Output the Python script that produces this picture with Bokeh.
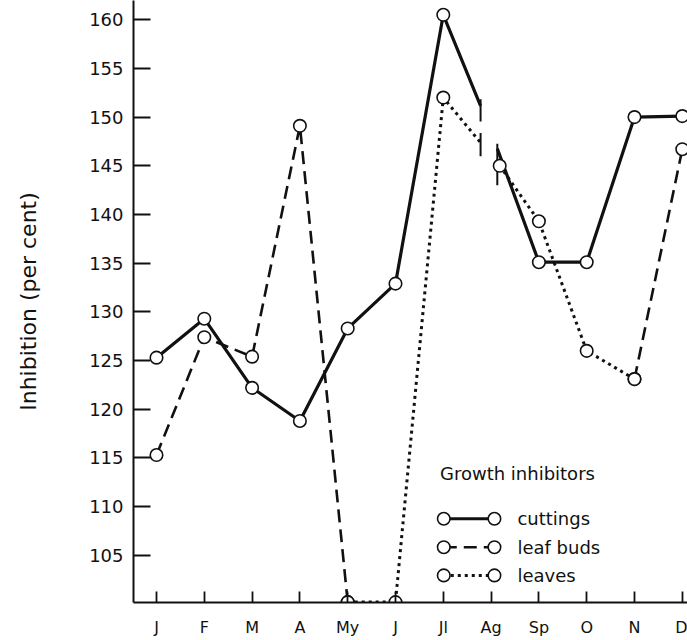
import math
from bokeh.plotting import figure
from bokeh.models import Range1d, FixedTicker, Label
from bokeh.embed import file_html
from bokeh.resources import INLINE

# ---------------- data ----------------
months = ["J", "F", "M", "A", "My", "J", "Jl", "Ag", "Sp", "O", "N", "D"]
nan = float("nan")
cuttings = [125.3, 129.3, 122.2, 118.8, 128.3, 132.9, 160.5, 148.5, 135.1, 135.1, 150.0, 150.1]
leaf_buds = [115.3, 127.4, 125.4, 149.1, 100.2, nan, nan, nan, nan, nan, 123.1, 146.7]
leaves = [nan, nan, nan, nan, 100.2, 100.2, 152.0, 145.0, 139.3, 126.0, 123.1, nan]
y_ticks = [105, 110, 115, 120, 125, 130, 135, 140, 145, 150, 155, 160]
series_labels = ["cuttings", "leaf buds", "leaves"]
legend_title = "Growth inhibitors"
y_label = "Inhibition (per cent)"

# ---------------- styles ----------------
FONT = "DejaVu Sans"
INK = "#111111"
styles = {
    "cuttings": dict(line_width=3.2, line_dash="solid"),
    "leaf buds": dict(line_width=2.6, line_dash="13 7"),
    "leaves": dict(line_width=3.0, line_dash="3 4"),
}
MARK = dict(size=12.5, fill_color="white", line_color=INK, line_width=1.6)

AG = months.index("Ag")
BREAK_L = AG - 0.22      # left edge of the break at Ag
BREAK_R = AG + 0.13      # right edge of the break at Ag
LEAF_AG_X = AG + 0.18    # leaves Ag marker drawn just right of the break

FRAME_LEFT, FRAME_BOTTOM = 133, 38
p = figure(width=687, height=640, output_backend="svg", toolbar_location=None,
           x_range=Range1d(-0.481, 11.109), y_range=Range1d(100.16, 161.97),
           min_border_left=FRAME_LEFT, min_border_right=0, min_border_top=0,
           min_border_bottom=FRAME_BOTTOM)
p.outline_line_color = None
p.grid.visible = False
p.background_fill_color = "white"

# axes
p.xaxis.ticker = FixedTicker(ticks=list(range(len(months))))
p.xaxis.major_label_overrides = {i: m for i, m in enumerate(months)}
p.yaxis.ticker = FixedTicker(ticks=y_ticks)
for ax in (p.xaxis, p.yaxis):
    ax.axis_line_color = INK
    ax.axis_line_width = 2
    ax.major_tick_line_color = INK
    ax.major_tick_line_width = 1.8
    ax.major_tick_out = 0
    ax.minor_tick_line_color = None
    ax.major_label_text_font = FONT
    ax.major_label_text_color = INK
p.yaxis.major_tick_in = 17
p.xaxis.major_tick_in = 11
p.yaxis.major_label_text_font_size = "18px"
p.xaxis.major_label_text_font_size = "16px"
p.yaxis.major_label_standoff = 10
p.xaxis.major_label_standoff = 15

p.yaxis.axis_label = y_label
p.yaxis.axis_label_text_font = FONT
p.yaxis.axis_label_text_font_size = "22px"
p.yaxis.axis_label_text_font_style = "normal"
p.yaxis.axis_label_text_color = INK
p.yaxis.axis_label_standoff = 45

# ---------------- cuttings (break at Ag) ----------------
xs = list(range(len(months)))
c_left = cuttings[AG - 1] + (cuttings[AG] - cuttings[AG - 1]) * (BREAK_L - (AG - 1))
c_right = cuttings[AG] + (cuttings[AG + 1] - cuttings[AG]) * (BREAK_R - AG)
st = styles["cuttings"]
p.line(xs[:AG] + [BREAK_L], cuttings[:AG] + [c_left], line_color=INK, **st)
p.line([BREAK_R] + xs[AG + 1:], [c_right] + cuttings[AG + 1:], line_color=INK, **st)

# ---------------- leaf buds ----------------
p.line(xs, leaf_buds, line_color=INK, **styles["leaf buds"])

# ---------------- leaves (break at Ag) ----------------
lx = [LEAF_AG_X if i == AG else i for i in xs]
frac = (BREAK_L - (AG - 1)) / (LEAF_AG_X - (AG - 1))
l_left = leaves[AG - 1] + (leaves[AG] - leaves[AG - 1]) * frac
st = styles["leaves"]
p.line(lx[:AG] + [BREAK_L], leaves[:AG] + [l_left], line_color=INK, **st)
p.line(lx[AG:], leaves[AG:], line_color=INK, **st)

# break bars
p.segment(x0=[BREAK_L, BREAK_L, BREAK_R], x1=[BREAK_L, BREAK_L, BREAK_R],
          y0=[c_left + 0.7, l_left + 1.0, c_right + 0.5],
          y1=[c_left - 1.6, l_left - 1.4, leaves[AG] - 2.0],
          line_color=INK, line_width=2)

# markers
cx = [x for i, x in enumerate(xs) if i != AG]
cy = [v for i, v in enumerate(cuttings) if i != AG]
p.scatter(cx, cy, marker="circle", **MARK)
bx = [x for x, v in zip(xs, leaf_buds) if not math.isnan(v)]
by = [v for v in leaf_buds if not math.isnan(v)]
p.scatter(bx, by, marker="circle", **MARK)
vx = [x for x, v in zip(lx, leaves) if not math.isnan(v)]
vy = [v for v in leaves if not math.isnan(v)]
p.scatter(vx, vy, marker="circle", **MARK)

# ---------------- legend (drawn in data space) ----------------
LEG_X0, LEG_X1, LEG_TX = 6.01, 7.07, 7.55
LEG_TITLE_Y = 113.4
LEG_ROWS = [108.76, 105.84, 102.94]
p.add_layout(Label(x=LEG_X0 - 0.08, y=LEG_TITLE_Y, text=legend_title,
                   text_font=FONT, text_font_size="18px", text_color=INK,
                   text_baseline="middle", text_align="left"))
for name, yy in zip(series_labels, LEG_ROWS):
    p.line([LEG_X0, LEG_X1], [yy, yy], line_color=INK, **styles[name])
    p.scatter([LEG_X0, LEG_X1], [yy, yy], marker="circle", **MARK)
    p.add_layout(Label(x=LEG_TX, y=yy, text=name, text_font=FONT,
                       text_font_size="18px", text_color=INK,
                       text_baseline="middle", text_align="left"))

open("out.html", "w").write(file_html(p, INLINE))
